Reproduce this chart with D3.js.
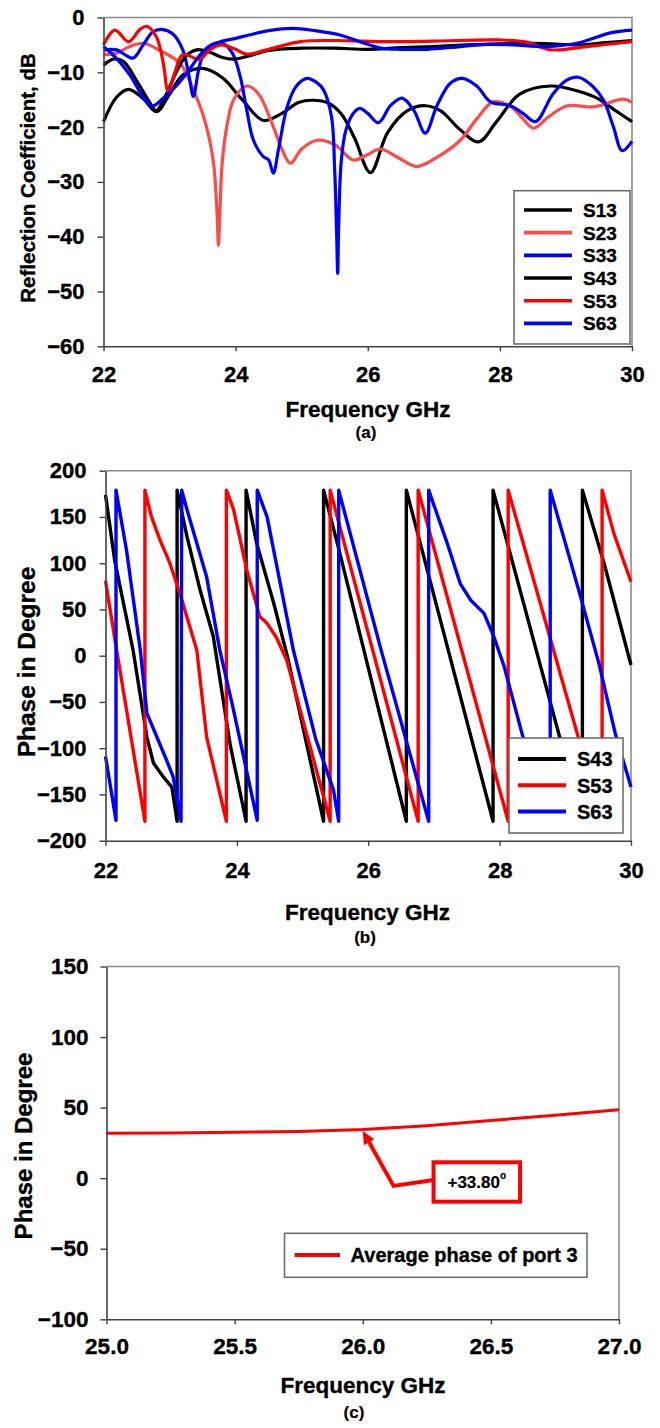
<!DOCTYPE html>
<html><head><meta charset="utf-8">
<script src="https://cdn.jsdelivr.net/npm/d3@7"></script>
<style>
body{margin:0;background:#fff}
svg{display:block}
text{font-family:"Liberation Sans",Arial,sans-serif;font-weight:bold;fill:#000;stroke:#000;stroke-width:0.35px}
</style></head>
<body><svg id="c" width="660" height="1428"></svg>
<script>
// ---------- Panel (a): Reflection coefficient (dB) ----------
const ticksAx = [22,24,26,28,30];
const ticksAy = [0,-10,-20,-30,-40,-50,-60];
const namesA = ["S13","S23","S33","S43","S53","S63"];
const colorsA = ["#000000","#ff4a4a","#0000ff","#000000","#ff0000","#0000ff"];
const s13 = [[22.0,-19],[22.2,-14.5],[22.38,-13.1],[22.6,-14.8],[22.8,-17.2],[23.0,-14],[23.2,-10.5],[23.5,-9.3],[23.8,-11],[24.1,-15],[24.42,-18.8],[24.7,-17.5],[24.95,-15.5],[25.18,-15.1],[25.4,-15.6],[25.6,-17.6],[25.8,-22],[26.04,-28.3],[26.3,-21],[26.6,-17],[26.87,-16.1],[27.1,-17],[27.4,-20.5],[27.68,-22.7],[27.95,-19],[28.3,-14],[28.77,-12.5],[29.2,-13.5],[29.47,-14.7],[29.75,-17],[30,-19]];
const s23 = [[22.0,-6.8],[22.2,-6.5],[22.4,-5.3],[22.6,-4.7],[22.85,-6],[23.16,-8.4],[23.36,-13.2],[23.5,-17.5],[23.6,-22],[23.67,-27],[23.72,-36],[23.74,-41.6],[23.76,-36],[23.8,-26],[23.88,-19],[23.97,-15],[24.17,-12.5],[24.35,-14],[24.57,-19.9],[24.7,-24],[24.83,-26.6],[25.0,-24],[25.23,-22.4],[25.5,-23.2],[25.78,-26],[26.0,-25],[26.19,-24],[26.45,-25.5],[26.74,-27.2],[27.05,-25.5],[27.4,-22.4],[27.65,-18.5],[27.9,-15.4],[28.16,-16.2],[28.35,-18.5],[28.51,-20.2],[28.75,-18],[29.02,-16.1],[29.42,-16.3],[29.87,-14.9],[30,-15.5]];
const s33 = [[22.0,-5.9],[22.2,-5.9],[22.3,-6.6],[22.45,-7.4],[22.6,-5],[22.75,-2.6],[22.9,-2.2],[23.05,-3],[23.2,-5.9],[23.3,-11],[23.36,-14.4],[23.45,-9],[23.56,-5.6],[23.79,-4.6],[23.95,-6.5],[24.07,-10.8],[24.17,-17],[24.27,-22.4],[24.42,-25.4],[24.5,-26],[24.57,-28.4],[24.65,-24],[24.78,-16.3],[24.92,-12.5],[25.08,-11.1],[25.22,-11.8],[25.33,-13.2],[25.45,-18],[25.5,-28],[25.53,-40],[25.545,-46.7],[25.56,-38],[25.6,-26],[25.67,-20.5],[25.78,-17.5],[25.88,-16.6],[26.0,-17.5],[26.16,-19.2],[26.35,-16],[26.52,-14.7],[26.7,-17],[26.87,-21.1],[27.05,-16],[27.25,-12],[27.43,-11.1],[27.65,-12.5],[27.86,-15.4],[28.16,-16.1],[28.35,-17.5],[28.54,-19],[28.8,-14],[29.0,-11.5],[29.19,-10.9],[29.4,-12.5],[29.57,-15.1],[29.72,-20],[29.85,-24.3],[30,-22.6]];
const s43 = [[22.0,-8.7],[22.15,-7.6],[22.3,-8],[22.5,-11.5],[22.7,-15.5],[22.8,-17],[22.95,-14],[23.1,-10],[23.25,-7],[23.41,-5.9],[23.6,-6.3],[23.8,-7.3],[23.97,-7.6],[24.2,-7],[24.5,-6],[25.0,-5.6],[25.5,-5.6],[26.0,-5.8],[26.5,-5.5],[27.0,-5.3],[27.5,-5],[28.0,-4.8],[28.5,-4.7],[28.77,-4.8],[29.2,-5],[29.6,-4.6],[30,-4.2]];
const s53 = [[22.0,-5],[22.17,-2.3],[22.38,-4.4],[22.55,-2.2],[22.65,-1.6],[22.8,-3.5],[22.9,-8],[22.98,-13.5],[23.08,-10],[23.2,-6.8],[23.46,-7.6],[23.6,-6],[23.77,-5],[24.0,-5.8],[24.17,-6.7],[24.47,-5.9],[24.98,-4.4],[25.5,-4.2],[26.3,-4.4],[27.0,-4.3],[28.0,-4.1],[28.4,-4.5],[28.77,-5.9],[29.32,-5.3],[30,-4.4]];
const s63 = [[22.0,-5.3],[22.2,-7.5],[22.4,-10.5],[22.6,-14.5],[22.73,-16.2],[22.9,-14.8],[23.1,-12.5],[23.3,-9.5],[23.45,-7],[23.6,-5.3],[23.8,-4.3],[24.0,-3.8],[24.2,-3.2],[24.5,-2.4],[24.87,-2.0],[25.2,-2.4],[25.58,-3.2],[25.9,-4.5],[26.2,-5.6],[26.5,-5.8],[26.9,-5.8],[27.4,-5.3],[27.8,-4.9],[28.2,-5],[28.7,-5.3],[29.2,-4.6],[29.67,-2.8],[30,-2.3]];

// ---------- Panel (b): Phase (deg) ----------
const ticksBx = [22,24,26,28,30];
const ticksBy = [200,150,100,50,0,-50,-100,-150,-200];
const namesB = ["S43","S53","S63"];
const colorsB = ["#000000","#ff0000","#0000ff"];
const ph43 = [[22.0,174],[22.14,103],[22.42,6],[22.63,-88],[22.73,-116],[22.88,-131],[23.01,-142],[23.09,-179],[23.09,179],[23.24,129],[23.44,71],[23.64,21],[23.9,-97],[24.14,-179],[24.14,179],[24.3,122],[24.56,57],[24.77,-1],[25.32,-179],[25.32,179],[25.57,110],[26.58,-179],[26.58,179],[27.9,-179],[27.9,179],[29.26,-179],[29.26,179],[29.59,100],[30,-10]];
const ph53 = [[22.0,81],[22.17,6],[22.6,-179],[22.6,179],[22.7,150],[22.83,125],[22.98,100],[23.13,68],[23.39,6],[23.54,-88],[23.84,-179],[23.84,179],[23.95,158],[24.15,93],[24.35,42],[24.46,35],[24.6,20],[24.76,-5],[25.42,-179],[25.42,179],[26.76,-179],[26.76,179],[27.43,4],[28.13,-179],[28.13,179],[29.56,-179],[29.56,179],[29.74,132],[30,80]];
const ph63 = [[22.0,-109],[22.16,-178],[22.16,179],[22.32,114],[22.53,6],[22.63,-62],[22.93,-113],[23.03,-131],[23.15,-179],[23.16,179],[23.24,158],[23.54,85],[23.74,6],[23.95,-59],[24.31,-178],[24.31,179],[24.46,150],[24.86,6],[25.2,-90],[25.47,-145],[25.55,-179],[25.55,179],[26.2,5],[26.92,-179],[26.92,179],[27.2,122],[27.4,78],[27.56,60],[27.76,46],[27.91,21],[28.07,-12],[28.34,-84],[28.77,-179],[28.77,179],[29.2,72],[29.51,-8],[29.76,-84],[30,-142]];

// ---------- Panel (c): Average phase of port 3 ----------
const ticksCx = [25.0,25.5,26.0,26.5,27.0];
const ticksCy = [150,100,50,0,-50,-100];
const freqC  = [25.0,25.25,25.5,25.75,26.0,26.25,26.5,26.75,27.0];
const phaseC = [31.8,32.1,32.5,33.1,34.5,37.2,40.9,44.6,48.5];
const annoFreq = 26.0, annoPhase = 33.5, annoLabel = "+33.80";

const svg = d3.select("#c");
const FONT = '"Liberation Sans",Arial,sans-serif';

function panel(cfg){
  const g = svg.append("g");
  const x = d3.scaleLinear().domain(cfg.xd).range([cfg.l, cfg.r]);
  const y = d3.scaleLinear().domain(cfg.yd).range([cfg.b, cfg.t]);
  g.append("path").attr("d",`M${cfg.l},${cfg.t}H${cfg.r}V${cfg.b}`)
    .attr("fill","none").attr("stroke","#8c8c8c").attr("stroke-width",1.6);
  const line = d3.line().x(d=>x(d[0])).y(d=>y(d[1])).curve(cfg.curve);
  cfg.series.forEach((s,i)=>{
    g.append("path").datum(s).attr("d",line).attr("fill","none")
      .attr("stroke",cfg.colors[i]).attr("stroke-width",cfg.lw).attr("stroke-linejoin","round");
  });
  const ax = g.append("g").attr("transform",`translate(0,${cfg.b})`)
    .call(d3.axisBottom(x).tickValues(cfg.xt).tickSize(5).tickSizeOuter(0).tickPadding(cfg.xpad).tickFormat(cfg.xf||d3.format("d")));
  const ay = g.append("g").attr("transform",`translate(${cfg.l},0)`)
    .call(d3.axisLeft(y).tickValues(cfg.yt).tickSize(6).tickSizeOuter(0).tickPadding(cfg.ypad).tickFormat(d3.format("d")));
  [ax,ay].forEach(a=>{
    a.attr("font-family",FONT).attr("font-size",cfg.tfs).attr("font-weight","bold");
    a.select(".domain").attr("stroke","#404040").attr("stroke-width",1.6);
    a.selectAll(".tick line").attr("stroke","#404040").attr("stroke-width",1.4);
    a.selectAll(".tick text").attr("fill","#000");
  });
  g.append("text").attr("x",cfg.xtx).attr("y",cfg.xty).attr("text-anchor","middle")
    .attr("font-size",cfg.xtfs).text("Frequency GHz");
  g.append("text").attr("transform",`translate(${cfg.ytx},${cfg.yty}) rotate(-90)`).attr("text-anchor","middle")
    .attr("font-size",cfg.ytfs).text(cfg.ytitle);
  g.append("text").attr("x",cfg.capx).attr("y",cfg.capy).attr("text-anchor","middle")
    .attr("font-size",cfg.capfs).style("stroke-width","0.2px").text(cfg.cap);
  return {g,x,y};
}

function legend(g, box, names, colors, cfg){
  g.append("rect").attr("x",box[0]).attr("y",box[1]).attr("width",box[2]-box[0]).attr("height",box[3]-box[1])
    .attr("fill","#fff").attr("stroke","#6e6e6e").attr("stroke-width",1.6);
  names.forEach((n,i)=>{
    const yy = cfg.y0 + i*cfg.dy;
    g.append("line").attr("x1",cfg.lx1).attr("x2",cfg.lx2).attr("y1",yy).attr("y2",yy)
      .attr("stroke",colors[i]).attr("stroke-width",cfg.lw);
    g.append("text").attr("x",cfg.tx).attr("y",yy).attr("dy","0.36em").attr("font-size",cfg.fs).text(n);
  });
}

// Panel a
const A = panel({xd:[22,30], yd:[-60,0], l:103.5, r:632, t:17.5, b:346.3,
  series:[s13,s23,s33,s43,s53,s63], colors:colorsA, lw:3.2, curve:d3.curveCatmullRom.alpha(0.5),
  xt:ticksAx, yt:ticksAy, tfs:22, xpad:15, ypad:13,
  xtx:368, xty:416.7, xtfs:22.5, ytx:35, yty:178, ytfs:20.5, ytitle:"Reflection Coefficient, dB",
  capx:366, capy:438, capfs:17, cap:"(a)"});
legend(A.g,[514,190.7,630,344],namesA,colorsA,{y0:210,dy:22.67,lx1:524,lx2:572,tx:583,fs:19,lw:3.6});

// Panel b
const B = panel({xd:[22,30], yd:[-200,200], l:105.5, r:631, t:470.7, b:840.7,
  series:[ph43,ph53,ph63], colors:colorsB, lw:3.4, curve:d3.curveLinear,
  xt:ticksBx, yt:ticksBy, tfs:22, xpad:17, ypad:13,
  xtx:367.5, xty:920, xtfs:22.5, ytx:35, yty:662, ytfs:24.5, ytitle:"Phase in Degree",
  capx:365, capy:943, capfs:17, cap:"(b)"});
legend(B.g,[509,738,623,833],namesB,colorsB,{y0:759,dy:26.3,lx1:518,lx2:566,tx:577,fs:20,lw:4});

// Panel c
const seriesC = freqC.map((f,i)=>[f,phaseC[i]]);
const C = panel({xd:[25,27], yd:[-100,150], l:106.5, r:619, t:966.5, b:1319.3,
  series:[seriesC], colors:["#ff0000"], lw:3, curve:d3.curveLinear,
  xt:ticksCx, yt:ticksCy, tfs:22.5, xf:d3.format(".1f"), xpad:14, ypad:12,
  xtx:363, xty:1393, xtfs:22.5, ytx:32, yty:1146, ytfs:24, ytitle:"Phase in Degree",
  capx:354, capy:1418, capfs:17, cap:"(c)"});
legend(C.g,[284.5,1233.3,587,1277.3],["Average phase of port 3"],["#ff0000"],{y0:1255,dy:0,lx1:294.6,lx2:340,tx:350.6,fs:20,lw:4});

// annotation in panel c (positions derived from scales)
const tipX = C.x(annoFreq), tipY = C.y(annoPhase);
const elbow = [C.x(26.12), C.y(-5.5)];
const boxCx = C.x(26.445), boxCy = C.y(-2.7);
const bw = 86.5, bh = 39.4;
const ag = C.g.append("g");
ag.append("path").attr("d",`M${boxCx-bw/2},${boxCy-2}L${elbow[0]},${elbow[1]}L${tipX+4},${tipY+7}`)
  .attr("fill","none").attr("stroke","#ff0000").attr("stroke-width",4).attr("stroke-linejoin","miter");
const ang = Math.atan2(tipY-elbow[1], tipX-elbow[0]);
const hl = 13, hw = 6;
const bx = tipX - hl*Math.cos(ang), by = tipY - hl*Math.sin(ang);
ag.append("path").attr("d",`M${tipX},${tipY}L${bx+hw*Math.sin(ang)},${by-hw*Math.cos(ang)}L${bx-hw*Math.sin(ang)},${by+hw*Math.cos(ang)}Z`)
  .attr("fill","#ff0000");
ag.append("rect").attr("x",boxCx-bw/2).attr("y",boxCy-bh/2).attr("width",bw).attr("height",bh)
  .attr("fill","#fff").attr("stroke","#ff0000").attr("stroke-width",4);
const at = ag.append("text").attr("x",boxCx).attr("y",boxCy).attr("dy","0.38em").attr("text-anchor","middle")
  .attr("font-size",17).style("stroke-width","0.2px");
at.append("tspan").text(annoLabel);
at.append("tspan").attr("font-size",10).attr("dy","-0.9em").text("o");
</script></body></html>
